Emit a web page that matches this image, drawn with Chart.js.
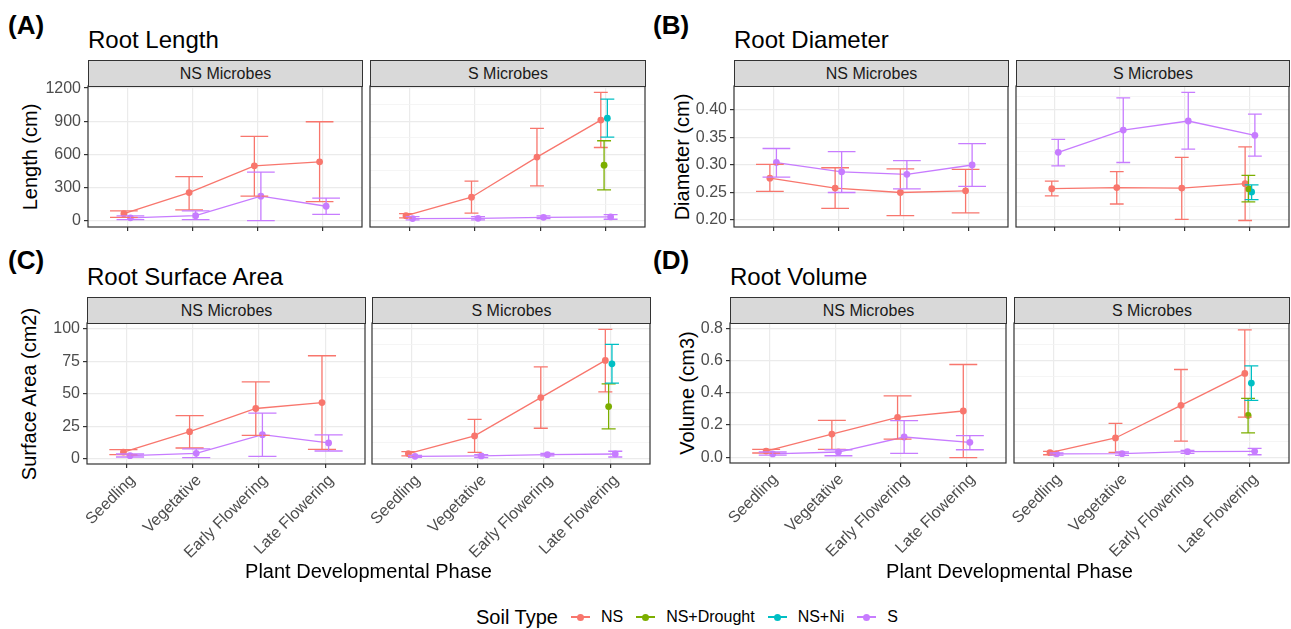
<!DOCTYPE html>
<html>
<head>
<meta charset="utf-8">
<script src="https://cdn.jsdelivr.net/npm/chart.js@4.4.0/dist/chart.umd.min.js"></script>
<style>
  body { margin: 0; background: #fff; width: 1291px; height: 629px; position: relative; overflow: hidden;
         font-family: "Liberation Sans", Arial, sans-serif; }
  .abs { position: absolute; white-space: nowrap; }
  .tag { font-weight: bold; font-size: 26px; line-height: 26px; color: #000; }
  .ptitle { font-size: 24px; line-height: 24px; color: #000; }
  .strip { background: #D9D9D9; border: 1px solid #333; box-sizing: border-box; font-size: 16px; color: #1A1A1A;
           display: flex; align-items: center; justify-content: center; }
  .xtitle { font-size: 20px; line-height: 20px; color: #000; text-align: center; }
  .ytitle { font-size: 20px; line-height: 24px; color: #000; text-align: center; width: 300px;
            transform: rotate(-90deg); transform-origin: 50% 50%; }
  .legend { display: flex; align-items: center; top: 606px; left: 476px; height: 22px; }
  .legend .lt { font-size: 20px; margin-right: 13px; }
  .legend .key { position: relative; width: 19px; height: 20px; margin-right: 11px; }
  .legend .key i { position: absolute; left: 0; top: 9px; width: 19px; height: 2px; }
  .legend .key b { position: absolute; left: 6px; top: 6.5px; width: 7px; height: 7px; border-radius: 50%; }
  .legend .lab { font-size: 16px; margin-right: 13px; }
</style>
</head>
<body>
<script>
const phases = ['Seedling', 'Vegetative', 'Early Flowering', 'Late Flowering'];
const microbes = ['NS Microbes', 'S Microbes'];
const soilTypes = ['NS', 'NS+Drought', 'NS+Ni', 'S'];
const soilColors = ['#F8766D', '#7CAE00', '#00BFC4', '#C77CFF'];

// each entry: [mean, lower, upper] for Seedling, Vegetative, Early Flowering, Late Flowering
// Root Length (cm)
const lengthNSMic_NS = [[63, 30, 88], [254, 97, 399], [496, 221, 762], [532, 172, 895]];
const lengthNSMic_S = [[25, 8, 42], [45, 8, 88], [221, 0, 439], [130, 57, 203]];
const lengthSMic_NS = [[45, 24, 63], [212, 67, 357], [575, 315, 835], [910, 662, 1161]];
const lengthSMic_Drought = [null, null, null, [502, 278, 723]];
const lengthSMic_Ni = [null, null, null, [928, 756, 1101]];
const lengthSMic_S = [[18, 6, 36], [21, 6, 36], [30, 18, 42], [33, 12, 54]];

// Root Diameter (cm)
const diamNSMic_NS = [[0.276, 0.252, 0.301], [0.258, 0.221, 0.295], [0.250, 0.208, 0.293], [0.253, 0.213, 0.292]];
const diamNSMic_S = [[0.3045, 0.278, 0.330], [0.2875, 0.250, 0.3245], [0.283, 0.2565, 0.308], [0.300, 0.261, 0.339]];
const diamSMic_NS = [[0.257, 0.244, 0.2705], [0.259, 0.229, 0.288], [0.258, 0.201, 0.314], [0.266, 0.199, 0.333]];
const diamSMic_Drought = [null, null, null, [0.257, 0.233, 0.281]];
const diamSMic_Ni = [null, null, null, [0.251, 0.237, 0.264]];
const diamSMic_S = [[0.323, 0.2985, 0.3465], [0.3635, 0.3045, 0.422], [0.380, 0.329, 0.432], [0.354, 0.316, 0.3925]];

// Root Surface Area (cm2)
const areaNSMic_NS = [[5.1, 3.1, 6.9], [20.8, 8.2, 33.2], [38.6, 18.0, 59.1], [43.2, 7.2, 79.2]];
const areaNSMic_S = [[2.3, 1.3, 3.6], [4.1, 0.8, 7.5], [18.5, 1.8, 35.0], [12.1, 5.9, 18.3]];
const areaSMic_NS = [[3.9, 2.1, 5.4], [17.5, 4.9, 30.3], [47.0, 23.4, 70.7], [75.6, 51.4, 99.5]];
const areaSMic_Drought = [null, null, null, [40.1, 22.9, 57.6]];
const areaSMic_Ni = [null, null, null, [73.0, 58.1, 87.9]];
const areaSMic_S = [[1.8, 1.0, 2.6], [2.1, 0.8, 3.1], [3.1, 2.1, 4.1], [3.6, 1.3, 5.7]];

// Root Volume (cm3)
const volNSMic_NS = [[0.039, 0.027, 0.049], [0.144, 0.049, 0.229], [0.247, 0.113, 0.381], [0.287, -0.002, 0.575]];
const volNSMic_S = [[0.021, 0.014, 0.033], [0.033, 0.010, 0.047], [0.126, 0.025, 0.227], [0.093, 0.047, 0.134]];
const volSMic_NS = [[0.029, 0.016, 0.037], [0.120, 0.031, 0.210], [0.322, 0.101, 0.544], [0.520, 0.249, 0.790]];
const volSMic_Drought = [null, null, null, [0.260, 0.151, 0.365]];
const volSMic_Ni = [null, null, null, [0.460, 0.353, 0.567]];
const volSMic_S = [[0.021, 0.014, 0.027], [0.023, 0.012, 0.033], [0.035, 0.025, 0.043], [0.037, 0.016, 0.056]];

// y tick values
const lengthTicks = [0, 300, 600, 900, 1200];
const diamTicks = [0.20, 0.25, 0.30, 0.35, 0.40];
const areaTicks = [0, 25, 50, 75, 100];
const volTicks = [0, 0.2, 0.4, 0.6, 0.8];

const FONT = '"Liberation Sans", Arial, sans-serif';
Chart.defaults.font.family = FONT;

const panels = [
  { tag: '(A)', title: 'Root Length', yTitle: 'Length (cm)', ticks: lengthTicks, dec: 0, range: [-58, 1219],
    left: 0, top: 86, bottom: 227, facets: [[88, 362], [370, 645]], yTitleX: 30, xLabels: false,
    series: [[lengthNSMic_NS, null, null, lengthNSMic_S], [lengthSMic_NS, lengthSMic_Drought, lengthSMic_Ni, lengthSMic_S]] },
  { tag: '(B)', title: 'Root Diameter', yTitle: 'Diameter (cm)', ticks: diamTicks, dec: 2, range: [0.1872, 0.4437],
    left: 645, top: 86, bottom: 227, facets: [[734, 1008], [1016, 1289]], yTitleX: 682, xLabels: false,
    series: [[diamNSMic_NS, null, null, diamNSMic_S], [diamSMic_NS, diamSMic_Drought, diamSMic_Ni, diamSMic_S]] },
  { tag: '(C)', title: 'Root Surface Area', yTitle: 'Surface Area (cm2)', ticks: areaTicks, dec: 0, range: [-4.1, 104.4],
    left: 0, top: 323, bottom: 464, facets: [[87, 365], [372, 650]], yTitleX: 29, xLabels: true,
    series: [[areaNSMic_NS, null, null, areaNSMic_S], [areaSMic_NS, areaSMic_Drought, areaSMic_Ni, areaSMic_S]] },
  { tag: '(D)', title: 'Root Volume', yTitle: 'Volume (cm3)', ticks: volTicks, dec: 1, range: [-0.035, 0.832],
    left: 645, top: 323, bottom: 463, facets: [[730, 1006], [1014, 1289]], yTitleX: 687, xLabels: true,
    series: [[volNSMic_NS, null, null, volNSMic_S], [volSMic_NS, volSMic_Drought, volSMic_Ni, volSMic_S]] }
];

function addDiv(cls, text, css) {
  const d = document.createElement('div');
  d.className = 'abs ' + cls;
  d.textContent = text;
  Object.assign(d.style, css);
  document.body.appendChild(d);
  return d;
}

// error bars and panel frame
const errorBars = {
  id: 'errorBars',
  afterDatasetsDraw(chart) {
    const { ctx, scales: { x, y } } = chart;
    chart.data.datasets.forEach(ds => {
      ctx.save();
      ctx.strokeStyle = ds.borderColor;
      ctx.lineWidth = 1.3;
      ds.data.forEach((p, i) => {
        const [lo, hi] = ds.err[i];
        const px = x.getPixelForValue(p.x);
        const x0 = x.getPixelForValue(p.x - ds.capW / 2);
        const x1 = x.getPixelForValue(p.x + ds.capW / 2);
        const yl = y.getPixelForValue(lo), yh = y.getPixelForValue(hi);
        ctx.beginPath();
        ctx.moveTo(px, yl); ctx.lineTo(px, yh);
        ctx.moveTo(x0, yl); ctx.lineTo(x1, yl);
        ctx.moveTo(x0, yh); ctx.lineTo(x1, yh);
        ctx.stroke();
      });
      ctx.restore();
    });
  },
  afterDraw(chart) {
    const { ctx, chartArea: a } = chart;
    ctx.save();
    ctx.strokeStyle = '#333333';
    ctx.lineWidth = 1.2;
    ctx.strokeRect(a.left, a.top, a.right - a.left, a.bottom - a.top);
    ctx.restore();
  }
};

function isMajor(v, ticks) {
  return ticks.some(t => Math.abs(t - v) < 1e-9);
}

function makeFacet(p, fi) {
  const [pl, pr] = p.facets[fi];
  const isLeft = fi === 0;
  const padL = isLeft ? 0 : 90;
  const yW = isLeft ? pl - p.left : 0;
  const canvasLeft = isLeft ? p.left : pl - padL;
  const padR = 8, padT = 8;
  const xH = p.xLabels ? 125 : 8;
  const w = pr + padR - canvasLeft;
  const h = p.bottom + xH - (p.top - padT);

  const c = document.createElement('canvas');
  c.width = w; c.height = h;
  Object.assign(c.style, { position: 'absolute', left: canvasLeft + 'px', top: (p.top - padT) + 'px' });
  document.body.appendChild(c);

  // major ticks plus midpoints for the minor grid
  const step = p.ticks[1] - p.ticks[0];
  const allTicks = [];
  p.ticks.forEach(t => allTicks.push(t));
  [p.ticks[0] - step / 2].concat(p.ticks.map(t => t + step / 2)).forEach(t => {
    if (t > p.range[0] && t < p.range[1]) allTicks.push(t);
  });
  allTicks.sort((a, b) => a - b);

  const seriesSet = p.series[fi];
  // dodge: groups present at each phase
  const maxN = Math.max(...phases.map((_, i) => seriesSet.filter(s => s && s[i]).length));
  const capW = 0.85 / maxN;
  const datasets = [];
  seriesSet.forEach((s, si) => {
    if (!s) return;
    const data = [], err = [];
    s.forEach((v, i) => {
      if (!v) return;
      const present = seriesSet.map((t, k) => (t && t[i]) ? k : -1).filter(k => k >= 0);
      const n = present.length, k = present.indexOf(si);
      const off = (k - (n - 1) / 2) * 0.2 / n;
      data.push({ x: i + 1 + off, y: v[0] });
      err.push([v[1], v[2]]);
    });
    datasets.push({
      label: soilTypes[si], data, err, capW,
      borderColor: soilColors[si], backgroundColor: soilColors[si],
      pointBackgroundColor: soilColors[si], pointBorderWidth: 0, pointRadius: 3.4,
      borderWidth: 1.3, showLine: data.length > 1, tension: 0, clip: false
    });
  });

  new Chart(c, {
    type: 'line',
    data: { datasets },
    plugins: [errorBars],
    options: {
      responsive: false, animation: false, devicePixelRatio: 1,
      layout: { padding: { left: padL, right: padR, top: padT, bottom: 0 } },
      plugins: { legend: { display: false }, tooltip: { enabled: false } },
      scales: {
        x: {
          type: 'linear', min: 0.4, max: 4.6,
          afterBuildTicks: s => { s.ticks = phases.map((_, i) => ({ value: i + 1 })); },
          afterFit: s => { s.height = xH; s.paddingLeft = 0; s.paddingRight = 0; },
          ticks: {
            autoSkip: false, minRotation: p.xLabels ? 45 : 0, maxRotation: p.xLabels ? 45 : 0,
            callback: v => p.xLabels ? phases[Math.round(v) - 1] : '',
            font: { size: 16 }, color: '#4D4D4D', padding: 3, labelOffset: p.xLabels ? 6 : 0
          },
          grid: { color: '#EBEBEB', lineWidth: 1.2, tickColor: '#333333', tickLength: 4 },
          border: { display: false }
        },
        y: {
          type: 'linear', min: p.range[0], max: p.range[1],
          afterBuildTicks: s => { s.ticks = allTicks.map(v => ({ value: v })); },
          afterFit: s => { s.width = yW; s.paddingTop = 0; s.paddingBottom = 0; },
          ticks: {
            display: isLeft,
            callback: v => isMajor(v, p.ticks) ? v.toFixed(p.dec) : '',
            font: { size: 16 }, color: '#4D4D4D', padding: 3
          },
          grid: {
            drawTicks: isLeft, tickLength: 4,
            color: ctx => isMajor(ctx.tick.value, p.ticks) ? '#EBEBEB' : '#F3F3F3',
            lineWidth: ctx => isMajor(ctx.tick.value, p.ticks) ? 1.2 : 0.8,
            tickColor: ctx => isMajor(ctx.tick.value, p.ticks) ? '#333333' : 'rgba(0,0,0,0)'
          },
          border: { display: false }
        }
      }
    }
  });

  // strip above the facet
  addDiv('strip', microbes[fi], {
    left: pl + 'px', top: (p.top - 26) + 'px', width: (pr - pl + 1) + 'px', height: '27px'
  });
}

panels.forEach(p => {
  const tagTop = p.top < 200 ? 12 : 247;
  addDiv('tag', p.tag, { left: (p.left + 8) + 'px', top: tagTop + 'px' });
  addDiv('ptitle', p.title, { left: p.facets[0][0] + 'px', top: (p.top - 86 + 28) + 'px' });
  addDiv('ytitle', p.yTitle, { left: (p.yTitleX - 150) + 'px', top: ((p.top + p.bottom) / 2 - 12) + 'px' });
  makeFacet(p, 0);
  makeFacet(p, 1);
  if (p.xLabels) {
    const cx = (p.facets[0][0] + p.facets[1][1]) / 2;
    addDiv('xtitle', 'Plant Developmental Phase', { left: (cx - 200) + 'px', width: '400px', top: '561px' });
  }
});

// legend
const leg = document.createElement('div');
leg.className = 'abs legend';
let html = '<span class="lt">Soil Type</span>';
soilTypes.forEach((s, i) => {
  html += '<span class="key"><i style="background:' + soilColors[i] + '"></i><b style="background:' +
    soilColors[i] + '"></b></span><span class="lab">' + s + '</span>';
});
leg.innerHTML = html;
document.body.appendChild(leg);
</script>
</body>
</html>
